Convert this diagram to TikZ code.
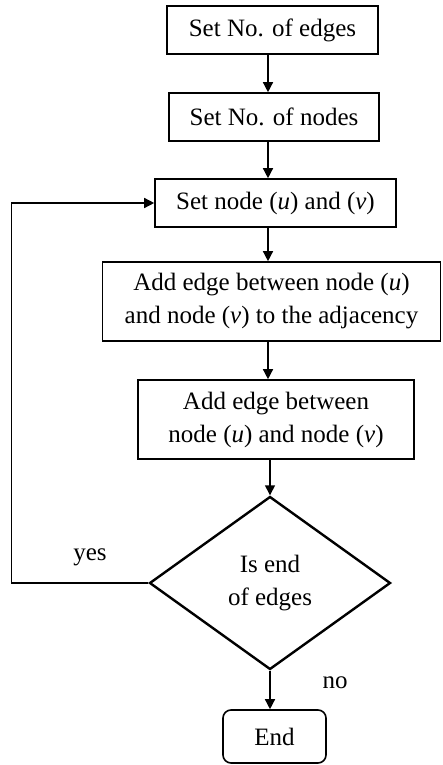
\documentclass[tikz,border=0pt]{standalone}
\usepackage{fontspec}
\setmainfont{Liberation Serif}
\usetikzlibrary{shapes.geometric,arrows.meta}
\begin{document}
\begin{tikzpicture}[x=1pt,y=-1pt,
  every node/.style={font=\fontsize{25}{33}\selectfont},
  procbox/.style={draw,line width=1.6pt,inner sep=0pt,align=center},
  decision/.style={draw,diamond,line width=2.4pt,inner sep=0pt,align=center},
  endbox/.style={draw,rounded corners=8pt,line width=1.6pt,inner sep=0pt},
  arr/.style={line width=1.4pt,-{Triangle[length=10pt,width=10pt]}},
  lbl/.style={inner sep=0pt}]
\useasboundingbox (0,0) rectangle (442,765);
\fill[white] (0,0) rectangle (442,765);

\node[procbox,minimum width=211pt,minimum height=48pt] (edges) at (272.5,30) {Set No. of edges};
\node[procbox,minimum width=210pt,minimum height=48pt] (nodes) at (274,117) {Set No. of nodes};
\node[procbox,minimum width=241pt,minimum height=48pt] (setuv) at (275.5,203) {Set node (\textit{u}) and (\textit{v})};
\node[procbox,minimum width=338pt,minimum height=79pt] (addadj) at (271.5,301.5) {Add edge between node (\textit{u})\\and node (\textit{v}) to the adjacency};
\node[procbox,minimum width=276pt,minimum height=79pt] (addedge) at (276,419.5) {Add edge between\\node (\textit{u}) and node (\textit{v})};
\node[decision,minimum width=241pt,minimum height=173pt] (isend) at (270,583) {Is end\\of edges};
\node[endbox,minimum width=103pt,minimum height=53pt] (finish) at (274.5,736.5) {End};

\draw[arr] (edges.south -| 268,0) -- (nodes.north -| 268,0);
\draw[arr] (nodes.south -| 268,0) -- (setuv.north -| 268,0);
\draw[arr] (setuv.south -| 268,0) -- (addadj.north -| 268,0);
\draw[arr] (addadj.south -| 268,0) -- (addedge.north -| 268,0);
\draw[arr] (addedge.south -| 270,0) -- (isend.north);
\draw[arr] (isend.south) -- (finish.north -| isend.south);
\draw[arr] (isend.west) -- ++(-137,0) |- (setuv.west);

\node[lbl] (yes) at (90,557) {yes};
\node[lbl] (no) at (335,683) {no};
\end{tikzpicture}
\end{document}
